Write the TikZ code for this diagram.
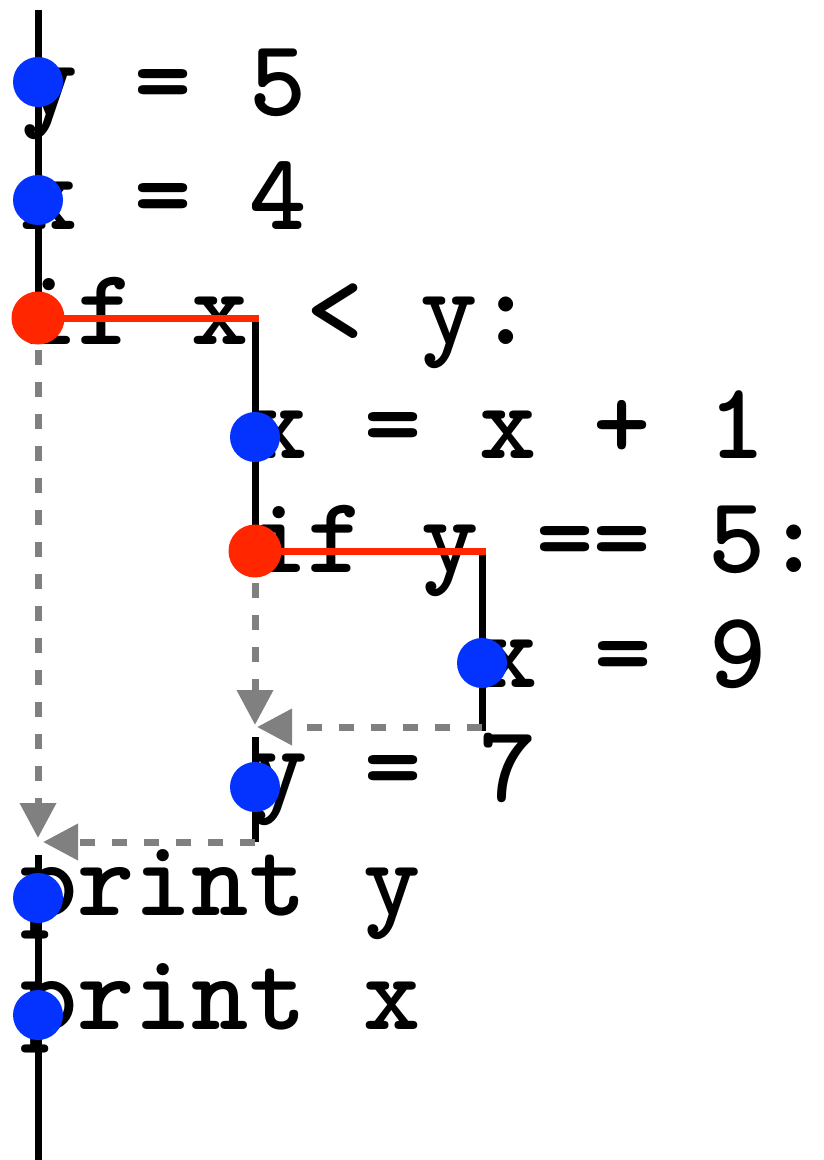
\documentclass[tikz,border=0pt]{standalone}
\usepackage{tikz}
\usetikzlibrary{arrows.meta}
\definecolor{stmtblue}{HTML}{0433FF}
\definecolor{condred}{HTML}{FF2600}
\definecolor{skipgray}{HTML}{808080}

\begin{document}
\begin{tikzpicture}[x=1pt, y=-1pt,
  code/.style={anchor=base west, inner sep=0pt, font=\fontsize{109}{109}\selectfont\ttfamily\bfseries},
  stmt/.style={circle, fill=stmtblue, minimum size=50pt, inner sep=0pt},
  cond/.style={circle, fill=condred, minimum size=53pt, inner sep=0pt},
  flow/.style={line width=7pt, black},
  test/.style={line width=7pt, condred, line cap=rect},
  skip/.style={line width=7pt, skipgray, dash pattern=on 15pt off 17pt, -{Triangle[length=35pt, width=35pt]}}]
  \useasboundingbox (0,0) rectangle (823,1160);

  % source lines
  \node[code] (l1) at (20,115) {y = 5};
  \node[code] (l2) at (20,229) {x = 4};
  \node[code] (l3) at (20,344) {if x < y:};
  \node[code] (l4) at (250,458) {x = x + 1};
  \node[code] (l5) at (250,572) {if y == 5:};
  \node[code] (l6) at (480,687) {x = 9};
  \node[code] (l7) at (250,801) {y = 7};
  \node[code] (l8) at (20,915) {print y};
  \node[code] (l9) at (20,1029) {print x};

  % points on the flow
  \coordinate (top) at (38,10);
  \coordinate (s1) at (38,82);
  \coordinate (s2) at (38,200);
  \coordinate (c1) at (38,318);
  \coordinate (c1e) at (255,318);
  \coordinate (s3) at (255,437);
  \coordinate (c2) at (255,551);
  \coordinate (c2e) at (482,551);
  \coordinate (s4) at (482,663);
  \coordinate (j2) at (482,727);
  \coordinate (m2a) at (257,727);
  \coordinate (m2b) at (255,725);
  \coordinate (k1) at (255,737);
  \coordinate (s5) at (255,787);
  \coordinate (j1) at (255,842);
  \coordinate (m1a) at (43,842);
  \coordinate (m1b) at (38,838);
  \coordinate (k0) at (38,855);
  \coordinate (s6) at (38,898);
  \coordinate (s7) at (38,1015);
  \coordinate (bot) at (38,1160);

  % taken paths
  \draw[flow] (top) -- (s1) -- (s2) -- (c1);
  \draw[flow, line cap=rect] (c1e) -- (s3) -- (c2);
  \draw[flow, line cap=rect] (c2e) -- (s4) -- (j2);
  \draw[flow] (k1) -- (s5) -- (j1);
  \draw[flow] (k0) -- (s6) -- (s7) -- (bot);
  \draw[test] (c1) -- (c1e);
  \draw[test] (c2) -- (c2e);

  % skipped paths
  \draw[skip] (c1) -- (m1b);
  \draw[skip] (j1) -- (m1a);
  \draw[skip] (c2) -- (m2b);
  \draw[skip] (j2) -- (m2a);

  % statements and conditions
  \node[stmt] (d1) at (s1) {};
  \node[stmt] (d2) at (s2) {};
  \node[cond] (d3) at (c1) {};
  \node[stmt] (d4) at (s3) {};
  \node[cond] (d5) at (c2) {};
  \node[stmt] (d6) at (s4) {};
  \node[stmt] (d7) at (s5) {};
  \node[stmt] (d8) at (s6) {};
  \node[stmt] (d9) at (s7) {};
\end{tikzpicture}
\end{document}
